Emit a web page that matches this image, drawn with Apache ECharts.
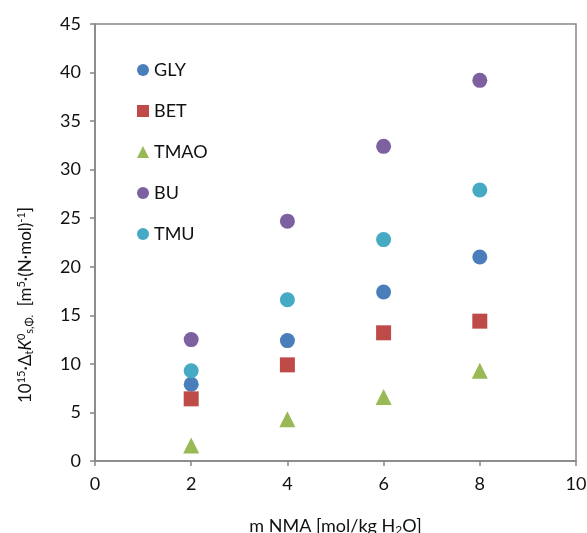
<!DOCTYPE html>
<html>
<head>
    <meta charset="UTF-8">
    <title>NMA scatter</title>
    <script src="https://cdn.jsdelivr.net/npm/echarts@6/dist/echarts.min.js"></script>
    <style>
        html, body { margin: 0; padding: 0; background: #fff; }
        #chart { width: 587px; height: 533px; }
    </style>
</head>
<body>
    <div id="chart"></div>
    <script>
        // molality of NMA
        const xValues = [2, 4, 6, 8];
        const seriesNames = ['GLY', 'BET', 'TMAO', 'BU', 'TMU'];
        const gly = [7.9, 12.4, 17.4, 21.0];
        const bet = [6.4, 9.9, 13.2, 14.4];
        const tmao = [1.6, 4.3, 6.6, 9.3];
        const bu = [12.5, 24.7, 32.4, 39.2];
        const tmu = [9.3, 16.6, 22.8, 27.9];

        const colors = ['#4a7ebb', '#be4b48', '#98b954', '#7d60a0', '#46aac5'];
        const symbols = ['circle', 'rect', 'triangle', 'circle', 'circle'];
        const sizes = [15, 15, 16, 15, 15];
        const font = 'Lato, "Open Sans", sans-serif';

        const chart = echarts.init(document.getElementById('chart'));

        function toPairs(vals) {
            return vals.map((v, i) => [xValues[i], v]);
        }

        const allData = [gly, bet, tmao, bu, tmu];

        chart.setOption({
            animation: false,
            textStyle: { fontFamily: font },
            grid: {
                left: 95, right: 11, top: 24, bottom: 72,
                outerBoundsMode: 'none',
                containLabel: false,
                show: true, borderColor: '#868686', borderWidth: 1.5
            },
            legend: {
                orient: 'vertical',
                left: 132,
                top: 55,
                itemWidth: 12,
                itemHeight: 12,
                itemGap: 21,
                data: seriesNames.map((n, i) => ({ name: n, icon: symbols[i] })),
                textStyle: { fontSize: 18, color: '#111', fontFamily: font, lineHeight: 20 }
            },
            xAxis: {
                type: 'value',
                min: 0, max: 10, interval: 2,
                name: 'm NMA [mol/kg H{sub|2}O]',
                nameLocation: 'middle',
                nameGap: 56,
                nameTextStyle: {
                    fontSize: 18, color: '#111', fontFamily: font,
                    rich: { sub: { fontSize: 12, verticalAlign: 'bottom', padding: [7, 0, 0, 0], fontFamily: font, color: '#111' } }
                },
                axisLine: { lineStyle: { color: '#868686', width: 1.5 } },
                axisTick: { show: true, length: 5, lineStyle: { color: '#868686', width: 1.5 } },
                axisLabel: { fontSize: 18, color: '#111', margin: 14 },
                splitLine: { show: false }
            },
            yAxis: {
                type: 'value',
                min: 0, max: 45, interval: 5,
                name: '10{sup|15}·Δ{sub|t}{it|K}{sup|0}{sub|s,Φ.}  [m{sup|5}·(N·mol){sup|-1}]',
                nameLocation: 'middle',
                nameGap: 60,
                nameTextStyle: {
                    fontSize: 17, color: '#111', fontFamily: font,
                    padding: [0, 125, 0, 0],
                    rich: {
                        sup: { fontSize: 11, verticalAlign: 'top', padding: [0, 0, 8, 0], fontFamily: font, color: '#111' },
                        sub: { fontSize: 11, verticalAlign: 'bottom', padding: [8, 0, 0, 0], fontFamily: font, color: '#111' },
                        it: { fontSize: 17, fontStyle: 'italic', fontFamily: font, color: '#111' }
                    }
                },
                axisLine: { show: true, lineStyle: { color: '#868686', width: 1.5 } },
                axisTick: { show: true, length: 5, lineStyle: { color: '#868686', width: 1.5 } },
                axisLabel: { fontSize: 18, color: '#111', margin: 14 },
                splitLine: { show: false }
            },
            series: seriesNames.map((n, i) => ({
                name: n,
                type: 'scatter',
                symbol: symbols[i],
                symbolSize: sizes[i],
                itemStyle: { color: colors[i], opacity: 1 },
                data: toPairs(allData[i])
            }))
        });
    </script>
</body>
</html>
